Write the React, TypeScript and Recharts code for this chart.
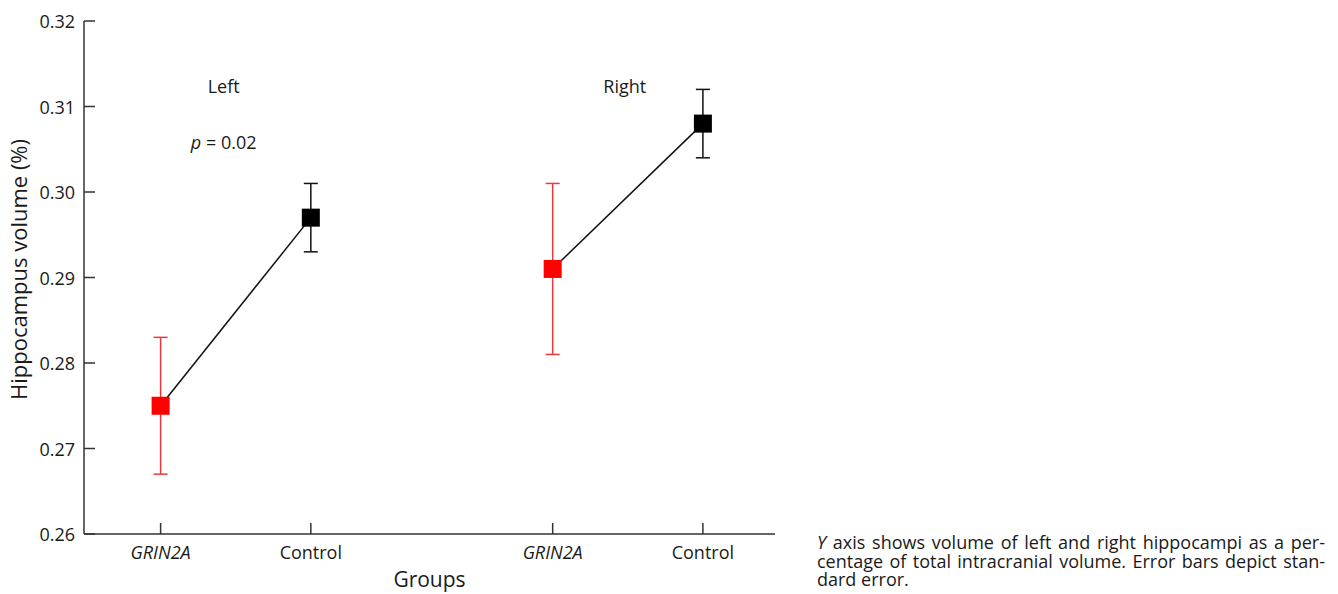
import { ComposedChart, Line, Scatter, ErrorBar, XAxis, YAxis, ReferenceDot } from 'recharts'

// values (% of total intracranial volume)
const sides = ['Left', 'Right']
const groupLabels = ['GRIN2A', 'Control']
const grinMean = [0.275, 0.291]
const grinSe = [0.008, 0.01]
const controlMean = [0.297, 0.308]
const controlSe = [0.004, 0.004]
const yTicks = [0.26, 0.27, 0.28, 0.29, 0.3, 0.31, 0.32]
const pValueLeft = '0.02'

// slot layout on the numeric x axis
const X_DOMAIN: [number, number] = [0, 4.6]
const sideOffset = [0.51, 3.12]

const FONT = '"Open Sans", sans-serif'
const AXIS = '#333'
const RED = '#ff0000'

const grinPoints = sides.map((side, i) => ({ side, x: sideOffset[i], y: grinMean[i], err: grinSe[i] }))
const controlPoints = sides.map((side, i) => ({ side, x: sideOffset[i] + 1, y: controlMean[i], err: controlSe[i] }))
const pairs = sides.map((_, i) => [grinPoints[i], controlPoints[i]])
const xTicks = sides.flatMap((_, i) => [sideOffset[i], sideOffset[i] + 1])
const xTickLabels = sides.flatMap(() => groupLabels)

function SquareMarker({ cx, cy, fill }: any) {
  if (cx == null || cy == null) return null
  return <rect x={cx - 9} y={cy - 9} width={18} height={18} fill={fill} />
}

function XTick({ x, y, index }: any) {
  const label = xTickLabels[index]
  return (
    <g>
      <line x1={x} x2={x} y1={y} y2={y - 11} stroke={AXIS} strokeWidth={1.5} />
      <text
        x={x}
        y={y + 18}
        textAnchor="middle"
        dominantBaseline="central"
        fontSize={18}
        fontFamily={FONT}
        fontStyle={label === 'GRIN2A' ? 'italic' : 'normal'}
        fill="#1a1a1a"
      >
        {label}
      </text>
    </g>
  )
}

function YTick({ x, y, payload }: any) {
  return (
    <g>
      <line x1={x} x2={x + 11} y1={y} y2={y} stroke={AXIS} strokeWidth={1.5} />
      <text x={x - 9} y={y} textAnchor="end" dominantBaseline="central" fontSize={18} fontFamily={FONT} fill="#1a1a1a">
        {Number(payload.value).toFixed(2)}
      </text>
    </g>
  )
}

function YLabel({ viewBox }: any) {
  const cx = viewBox.x - 6
  const cy = viewBox.y + viewBox.height / 2 - 8
  return (
    <text
      x={cx}
      y={cy}
      transform={`rotate(-90 ${cx} ${cy})`}
      textAnchor="middle"
      dominantBaseline="central"
      fontSize={22}
      fontFamily={FONT}
      fill="#1a1a1a"
    >
      Hippocampus volume (%)
    </text>
  )
}

function SideLabel({ viewBox, value }: any) {
  const cx = viewBox.x + viewBox.width / 2
  const cy = viewBox.y + viewBox.height / 2
  return (
    <text x={cx} y={cy} textAnchor="middle" dominantBaseline="central" fontSize={18} fontFamily={FONT} fill="#1a1a1a">
      {value}
    </text>
  )
}

function PLabel({ viewBox }: any) {
  const cx = viewBox.x + viewBox.width / 2
  const cy = viewBox.y + viewBox.height / 2
  return (
    <text x={cx} y={cy} textAnchor="middle" dominantBaseline="central" fontSize={18} fontFamily={FONT} fill="#1a1a1a">
      <tspan fontStyle="italic">p</tspan> = {pValueLeft}
    </text>
  )
}

export default function App() {
  return (
    <div style={{ position: 'absolute', left: 0, top: 0, width: 1338, height: 594, background: '#fff', fontFamily: FONT }}>
      <ComposedChart width={800} height={594} margin={{ top: 21, right: 25, bottom: 0, left: 24 }}>
        <XAxis
          type="number"
          dataKey="x"
          domain={X_DOMAIN}
          ticks={xTicks}
          interval={0}
          allowDataOverflow
          axisLine={{ stroke: AXIS, strokeWidth: 1.5 }}
          tickLine={false}
          tickSize={0}
          tickMargin={0}
          tick={<XTick />}
          height={60}
          label={{ value: 'Groups', position: 'insideBottom', offset: 7, fontSize: 21, fontFamily: FONT, fill: '#1a1a1a' }}
        />
        <YAxis
          type="number"
          domain={[0.26, 0.32]}
          ticks={yTicks}
          interval={0}
          allowDataOverflow
          axisLine={{ stroke: AXIS, strokeWidth: 1.5 }}
          tickLine={false}
          tickSize={0}
          tickMargin={0}
          tick={<YTick />}
          width={60}
          label={{ content: <YLabel /> }}
        />
        {pairs.map((pair, i) => (
          <Line
            key={`pair-${i}`}
            data={pair}
            dataKey="y"
            stroke="#111"
            strokeWidth={1.5}
            dot={false}
            activeDot={false}
            isAnimationActive={false}
            type="linear"
          />
        ))}
        <Scatter data={grinPoints} dataKey="y" fill={RED} shape={<SquareMarker />} isAnimationActive={false}>
          <ErrorBar dataKey="err" direction="y" width={7} stroke="#e8393d" strokeWidth={1.5} isAnimationActive={false} />
        </Scatter>
        <Scatter data={controlPoints} dataKey="y" fill="#000" shape={<SquareMarker />} isAnimationActive={false}>
          <ErrorBar dataKey="err" direction="y" width={7} stroke="#111" strokeWidth={1.5} isAnimationActive={false} />
        </Scatter>
        <ReferenceDot x={0.93} y={0.3124} r={1} fill="none" stroke="none" label={{ value: sides[0], content: <SideLabel /> }} />
        <ReferenceDot x={0.93} y={0.3058} r={1} fill="none" stroke="none" label={{ content: <PLabel /> }} />
        <ReferenceDot x={3.6} y={0.3124} r={1} fill="none" stroke="none" label={{ value: sides[1], content: <SideLabel /> }} />
      </ComposedChart>
      <div
        style={{
          position: 'absolute',
          left: 817,
          top: 533,
          width: 508,
          fontSize: 18,
          lineHeight: '18.5px',
          color: '#1a1a1a',
          whiteSpace: 'nowrap',
        }}
      >
        <div style={{ textAlign: 'justify', textAlignLast: 'justify' }}>
          <i>Y</i> axis shows volume of left and right hippocampi as a per-
        </div>
        <div style={{ textAlign: 'justify', textAlignLast: 'justify' }}>
          centage of total intracranial volume. Error bars depict stan-
        </div>
        <div>dard error.</div>
      </div>
    </div>
  )
}
